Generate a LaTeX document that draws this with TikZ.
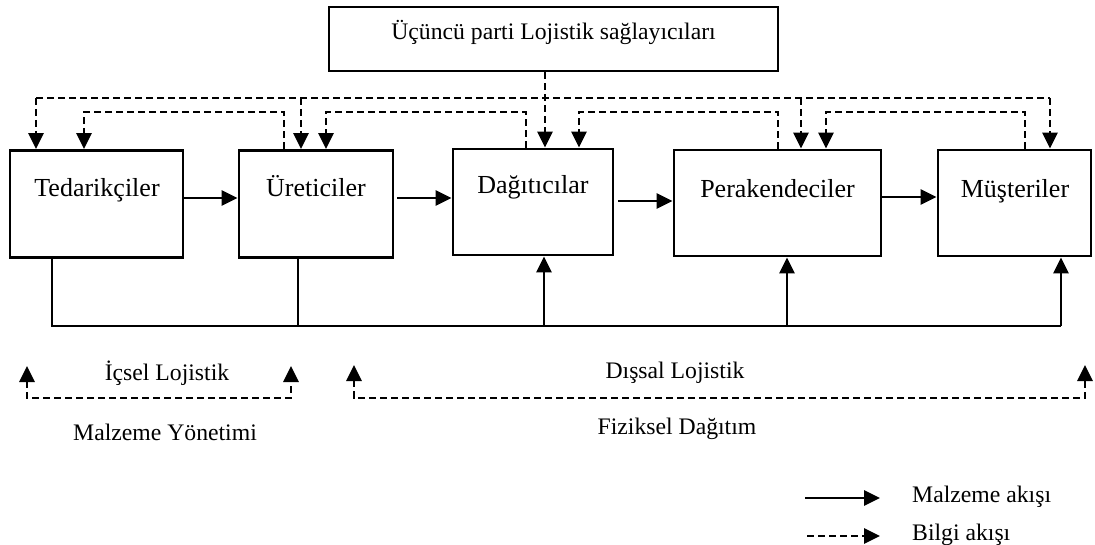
\documentclass[tikz,border=0pt]{standalone}
\usepackage{fontspec}
\setmainfont{Liberation Serif}
\usetikzlibrary{arrows.meta}
\tikzset{
  box/.style={draw, line width=2.8pt, inner sep=0pt},
  boxlabel/.style={font=\fontsize{26}{30}\selectfont, anchor=base, inner sep=0pt},
  caption/.style={font=\fontsize{23.7}{28}\selectfont, anchor=base, inner sep=0pt},
  legendtext/.style={caption, anchor=base west},
  tip/.tip={Triangle[length=16pt,width=15pt]},
  matline/.style={line width=2.8pt},
  mat/.style={matline, -tip},
  infoline/.style={line width=2.8pt, dash pattern=on 7pt off 4pt},
  info/.style={infoline, -tip},
  infoboth/.style={infoline, tip-tip},
}
\begin{document}
\begin{tikzpicture}[x=1pt,y=-1pt]
\useasboundingbox (0,0) rectangle (1095,545);

% third-party logistics provider
\node[box, minimum width=449pt, minimum height=64pt] (tpl) at (553.5,39) {};
\node[caption] (tpltext) at (553.5,40) {Üçüncü parti Lojistik sağlayıcıları};

% supply chain members
\node[box, minimum width=173pt, minimum height=107pt] (ted) at (96.5,204) {};
\node[box, minimum width=154pt, minimum height=107pt] (ure) at (316,204) {};
\node[box, minimum width=160pt, minimum height=106pt] (dag) at (533,202) {};
\node[box, minimum width=207pt, minimum height=106pt] (per) at (777.5,203) {};
\node[box, minimum width=153pt, minimum height=106pt] (mus) at (1014.5,203) {};

\node[boxlabel] (tedtext) at (97,197) {Tedarikçiler};
\node[boxlabel] (uretext) at (316,197) {Üreticiler};
\node[boxlabel] (dagtext) at (533,194) {Dağıtıcılar};
\node[boxlabel] (pertext) at (777.5,198) {Perakendeciler};
\node[boxlabel] (mustext) at (1015,198) {Müşteriler};

% material flow between neighbours
\coordinate (m1) at (0,198);
\coordinate (m2) at (0,201);
\coordinate (m3) at (0,197);
\draw[mat] (ted.east |- m1) -- (ure.west |- m1);
\draw[mat] ([xshift=3pt]ure.east |- m1) -- (dag.west |- m1);
\draw[mat] ([xshift=4pt]dag.east |- m2) -- (per.west |- m2);
\draw[mat] (per.east |- m3) -- (mus.west |- m3);

% information broadcast line
\coordinate (u-ted) at (36,98);
\coordinate (u-ure) at (301,98);
\coordinate (u-per) at (801,98);
\coordinate (u-mus) at (1050,98);
\coordinate (u-tpl) at (545,0);
\draw[infoline] (u-ted) -- (u-mus);
\draw[info] (u-ted) -- (ted.north -| u-ted);
\draw[info] (u-ure) -- (ure.north -| u-ure);
\draw[info] (u-per) -- (per.north -| u-per);
\draw[info] (u-mus) -- (mus.north -| u-mus);
\draw[info] (tpl.south -| u-tpl) -- (dag.north -| u-tpl);

% information feedback to the upstream member
\coordinate (a1) at (284,112); \coordinate (a2) at (84,112);
\coordinate (b1) at (526,112); \coordinate (b2) at (326,112);
\coordinate (c1) at (778,112); \coordinate (c2) at (579,112);
\coordinate (d1) at (1025,112); \coordinate (d2) at (826,112);
\draw[info] (ure.north -| a1) -- (a1) -- (a2) -- (ted.north -| a2);
\draw[info] (dag.north -| b1) -- (b1) -- (b2) -- (ure.north -| b2);
\draw[info] (per.north -| c1) -- (c1) -- (c2) -- (dag.north -| c2);
\draw[info] (mus.north -| d1) -- (d1) -- (d2) -- (per.north -| d2);

% physical distribution bus
\coordinate (p-ted) at (52,326);
\coordinate (p-ure) at (298,326);
\coordinate (p-dag) at (544,326);
\coordinate (p-per) at (787,326);
\coordinate (p-mus) at (1061,326);
\draw[matline] (ted.south -| p-ted) -- (p-ted) -- (p-mus);
\draw[matline] (ure.south -| p-ure) -- (p-ure);
\draw[mat] (p-dag) -- (dag.south -| p-dag);
\draw[mat] (p-per) -- (per.south -| p-per);
\draw[mat] (p-mus) -- (mus.south -| p-mus);

% scope brackets
\coordinate (i1) at (27,366); \coordinate (i2) at (27,398);
\coordinate (i3) at (291,398); \coordinate (i4) at (291,366);
\draw[infoboth] (i1) -- (i2) -- (i3) -- (i4);
\node[caption] (icsel) at (167,380) {İçsel Lojistik};
\node[caption] (malz) at (165,440) {Malzeme Yönetimi};

\coordinate (e1) at (354,365); \coordinate (e2) at (354,398);
\coordinate (e3) at (1085,398); \coordinate (e4) at (1085,365);
\draw[infoboth] (e1) -- (e2) -- (e3) -- (e4);
\node[caption] (dissal) at (675,378) {Dışsal Lojistik};
\node[caption] (fiz) at (677,434) {Fiziksel Dağıtım};

% legend
\coordinate (l1a) at (805,498); \coordinate (l1b) at (880,498);
\coordinate (l2a) at (807,536); \coordinate (l2b) at (880,536);
\draw[mat] (l1a) -- (l1b);
\draw[info] (l2a) -- (l2b);
\node[legendtext] (lmat) at (912,502) {Malzeme akışı};
\node[legendtext] (linfo) at (912,540) {Bilgi akışı};
\end{tikzpicture}
\end{document}
